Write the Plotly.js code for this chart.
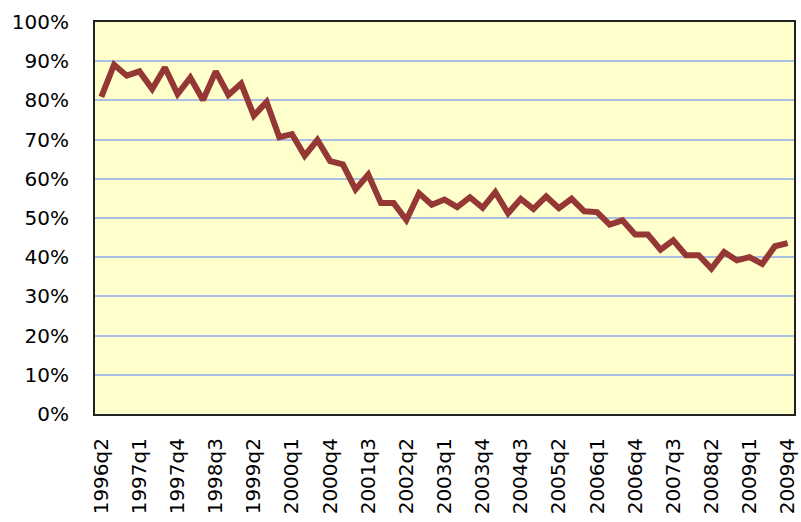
<!DOCTYPE html>
<html>
<head>
<meta charset="utf-8">
<script src="https://cdn.plot.ly/plotly-3.0.1.min.js"></script>
<style>html,body{margin:0;padding:0;background:#fff;}#chart{width:801px;height:522px;}</style>
</head>
<body>
<div id="chart"></div>
<script>
// Quarters 1996q2 .. 2009q4
const years = [1996,1997,1998,1999,2000,2001,2002,2003,2004,2005,2006,2007,2008,2009];
const quarters = [];
years.forEach(function(y){ [1,2,3,4].forEach(function(q){ if (!(y===1996 && q===1)) quarters.push(y + 'q' + q); }); });

const values = [
  80.9, 89.1, 86.3, 87.4, 82.9, 88.4, 81.6, 85.8, 80.1, 87.4,
  81.4, 84.3, 76.1, 79.6, 70.6, 71.4, 65.9, 69.9, 64.5, 63.7,
  57.3, 61.1, 53.8, 53.8, 49.5, 56.3, 53.4, 54.7, 52.8, 55.3,
  52.6, 56.6, 51.2, 54.9, 52.3, 55.5, 52.5, 54.9, 51.7, 51.5,
  48.3, 49.4, 45.8, 45.8, 41.9, 44.3, 40.5, 40.5, 37.1, 41.3,
  39.2, 40.0, 38.3, 42.8, 43.6
];

const tickVals = quarters.filter(function(_, i){ return i % 3 === 0; });
const yTicks = [0,10,20,30,40,50,60,70,80,90,100];
const yTickText = yTicks.map(function(v){ return v + '%'; });

const trace = {
  type: 'scatter',
  mode: 'lines',
  x: quarters,
  y: values,
  line: {color: '#953735', width: 6},
  hoverinfo: 'x+y'
};

const layout = {
  width: 801, height: 522,
  margin: {l: 95, r: 7, t: 22, b: 108},
  paper_bgcolor: '#ffffff',
  plot_bgcolor: '#ffffcc',
  showlegend: false,
  font: {family: 'DejaVu Sans', size: 20, color: '#000'},
  xaxis: {
    type: 'category',
    tickmode: 'array',
    tickvals: tickVals,
    ticktext: tickVals,
    tickangle: -90,
    ticks: '',
    ticklabelstandoff: 14,
    showgrid: false,
    showline: true, mirror: true, linecolor: '#222', linewidth: 2,
    zeroline: false,
    range: [-0.5, quarters.length - 0.5],
    tickfont: {family: 'DejaVu Sans', size: 20, color: '#000'}
  },
  yaxis: {
    range: [0, 100],
    tickmode: 'array',
    tickvals: yTicks,
    ticktext: yTickText,
    ticks: '',
    ticklabelstandoff: 20,
    showgrid: true, gridcolor: '#a9c0e2', gridwidth: 2,
    showline: true, mirror: true, linecolor: '#222', linewidth: 2,
    zeroline: false,
    tickfont: {family: 'DejaVu Sans', size: 20, color: '#000'}
  }
};

Plotly.newPlot('chart', [trace], layout, {displayModeBar: false, staticPlot: true});
</script>
</body>
</html>
